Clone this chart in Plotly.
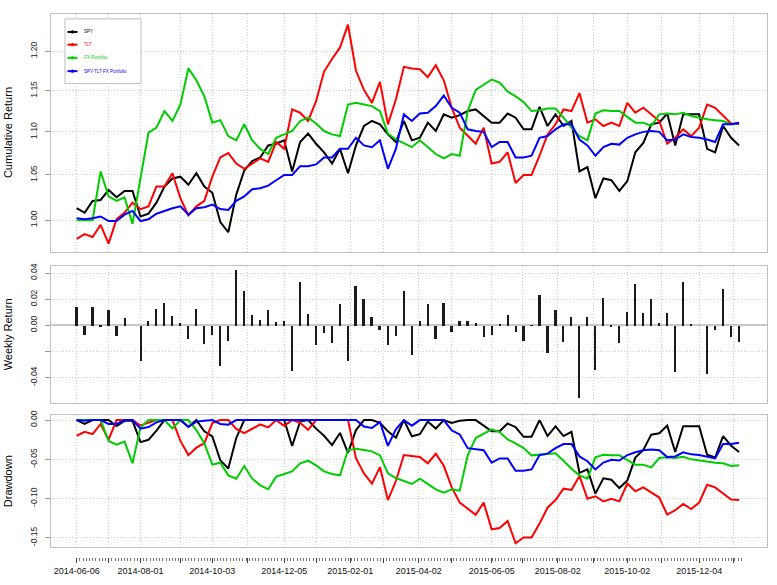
import numpy as np
import pandas as pd
import plotly.graph_objects as go

# ---------------- data ----------------
start_date = "2014-06-06"
n_weeks = 84
dates = pd.date_range(start_date, periods=n_weeks, freq="7D")

spy = [1.013, 1.008, 1.021, 1.022, 1.033, 1.025, 1.032, 1.032, 1.004, 1.007,
       1.019, 1.037, 1.046, 1.048, 1.039, 1.052, 1.037, 1.030, 0.998, 0.987,
       1.028, 1.055, 1.066, 1.070, 1.084, 1.086, 1.090, 1.054, 1.088, 1.098,
       1.086, 1.076, 1.063, 1.080, 1.052, 1.084, 1.107, 1.113, 1.109, 1.097,
       1.088, 1.113, 1.090, 1.093, 1.111, 1.101, 1.121, 1.117, 1.120, 1.125,
       1.127, 1.119, 1.111, 1.111, 1.122, 1.117, 1.103, 1.103, 1.130, 1.107,
       1.121, 1.107, 1.113, 1.054, 1.059, 1.024, 1.046, 1.044, 1.032, 1.043,
       1.076, 1.087, 1.109, 1.111, 1.122, 1.084, 1.121, 1.121, 1.121, 1.080,
       1.076, 1.107, 1.093, 1.084]

tlt = [0.980, 0.985, 0.982, 0.995, 0.975, 1.001, 1.008, 1.019, 1.012, 1.015,
       1.037, 1.037, 1.052, 1.024, 1.005, 1.015, 1.021, 1.048, 1.070, 1.075,
       1.063, 1.057, 1.063, 1.069, 1.065, 1.088, 1.080, 1.127, 1.123, 1.113,
       1.137, 1.174, 1.190, 1.205, 1.235, 1.175, 1.151, 1.135, 1.161, 1.109,
       1.139, 1.180, 1.178, 1.177, 1.167, 1.182, 1.163, 1.129, 1.105, 1.095,
       1.086, 1.105, 1.063, 1.065, 1.076, 1.041, 1.050, 1.050, 1.072, 1.097,
       1.109, 1.127, 1.125, 1.147, 1.111, 1.115, 1.107, 1.111, 1.107, 1.135,
       1.123, 1.129, 1.121, 1.113, 1.086, 1.093, 1.103, 1.095, 1.105, 1.133,
       1.129, 1.119, 1.110, 1.109]

fx = [1.000, 1.000, 1.000, 1.054, 1.026, 1.021, 1.025, 0.996, 1.044, 1.099,
      1.105, 1.125, 1.113, 1.133, 1.178, 1.163, 1.143, 1.111, 1.114, 1.095,
      1.090, 1.109, 1.090, 1.080, 1.074, 1.093, 1.097, 1.101, 1.113, 1.117,
      1.110, 1.101, 1.097, 1.095, 1.133, 1.135, 1.133, 1.131, 1.125, 1.098,
      1.091, 1.086, 1.082, 1.090, 1.082, 1.074, 1.069, 1.074, 1.072, 1.125,
      1.151, 1.157, 1.164, 1.160, 1.149, 1.143, 1.136, 1.125, 1.126, 1.128,
      1.128, 1.117, 1.105, 1.095, 1.090, 1.122, 1.126, 1.125, 1.125, 1.118,
      1.111, 1.111, 1.107, 1.121, 1.122, 1.121, 1.123, 1.119, 1.117, 1.115,
      1.114, 1.113, 1.109, 1.110]

combo = [1.002, 1.001, 1.002, 1.004, 0.999, 0.999, 1.006, 1.010, 0.999, 1.001,
         1.007, 1.010, 1.013, 1.015, 1.006, 1.013, 1.014, 1.017, 1.012, 1.011,
         1.021, 1.026, 1.034, 1.035, 1.038, 1.044, 1.050, 1.050, 1.060, 1.060,
         1.062, 1.070, 1.070, 1.080, 1.080, 1.093, 1.084, 1.082, 1.090, 1.057,
         1.080, 1.121, 1.113, 1.122, 1.123, 1.131, 1.144, 1.129, 1.123, 1.103,
         1.101, 1.100, 1.082, 1.088, 1.088, 1.070, 1.070, 1.072, 1.093, 1.095,
         1.103, 1.109, 1.109, 1.091, 1.084, 1.072, 1.082, 1.086, 1.085, 1.093,
         1.097, 1.100, 1.101, 1.100, 1.090, 1.091, 1.097, 1.094, 1.093, 1.091,
         1.088, 1.109, 1.109, 1.111]

weekly_ret = [0.0143, -0.0068, 0.0143, -0.0005, 0.0120, -0.0080, 0.0058, 0.0, -0.0268, 0.0038,
              0.0125, 0.0175, 0.0075, 0.0020, -0.0100, 0.0125, -0.0143, -0.0070, -0.0308, -0.0113,
              0.0425, 0.0268, 0.0080, 0.0043, 0.0118, 0.0025, 0.0038, -0.0343, 0.0338, 0.0093,
              -0.0145, -0.0058, -0.0130, 0.0163, -0.0270, 0.0305, 0.0205, 0.0070, -0.0030, -0.0150,
              -0.0080, 0.0268, -0.0225, 0.0033, 0.0170, -0.0103, 0.0175, -0.0045, 0.0040, 0.0035,
              0.0023, -0.0088, -0.0068, 0.0010, 0.0085, -0.0048, -0.0120, 0.0005, 0.0238, -0.0210,
              0.0118, -0.0123, 0.0070, -0.0555, 0.0070, -0.0338, 0.0213, -0.0010, -0.0133, 0.0108,
              0.0320, 0.0095, 0.0208, 0.0018, 0.0100, -0.0355, 0.0333, 0.0008, 0.0, -0.0368,
              -0.0035, 0.0280, -0.0088, -0.0125]

names = ["SPY", "TLT", "FX Portfolio", "SPY-TLT-FX Portfolio"]
colors = ["#000000", "#FF0000", "#00CD00", "#0000FF"]

major_ticks = ["2014-06-06", "2014-07-04", "2014-08-01", "2014-09-05", "2014-10-03",
               "2014-11-03", "2014-12-05", "2015-01-02", "2015-02-01", "2015-03-02",
               "2015-04-02", "2015-05-01", "2015-06-05", "2015-07-02", "2015-08-02",
               "2015-09-02", "2015-10-02", "2015-11-01", "2015-12-04", "2016-01-03"]
major_labels = ["2014-06-06", "", "2014-08-01", "", "2014-10-03", "", "2014-12-05", "",
                "2015-02-01", "", "2015-04-02", "", "2015-06-05", "", "2015-08-02", "",
                "2015-10-02", "", "2015-12-04", ""]

cum_ticks = [1.00, 1.05, 1.10, 1.15, 1.20]
cum_labels = ["1.00", "1.05", "1.10", "1.15", "1.20"]
ret_ticks = [-0.04, -0.02, 0.00, 0.02, 0.04]
ret_labels = ["-0.04", "", "0.00", "0.02", "0.04"]
dd_ticks = [-0.15, -0.10, -0.05, 0.00]
dd_labels = ["-0.15", "-0.10", "-0.05", "0.00"]

series = [spy, tlt, fx, combo]


def drawdown(c):
    c = np.asarray(c, dtype=float)
    peak = np.maximum.accumulate(np.maximum(c, 1.0))
    return c / peak - 1.0


# ---------------- layout geometry ----------------
W, H = 777, 585
ML, MR, MT, MB = 51, 10, 9, 22
PW = W - ML - MR
PH = H - MT - MB


def px2x(px):
    return (px - ML) / PW


def px2y(py):
    return (H - MB - py) / PH


x_range = ["2014-05-14 12:00", "2016-02-01 12:00"]
minor_vals = pd.date_range(start_date, "2016-01-10", periods=209)

GRID = "#CFCFCF"
GRID_DASH = "1px,2px"
FRAME = "#BEBEBE"
FONT = "Liberation Sans, Arial, sans-serif"

fig = go.Figure()

for s, nm, col in zip(series, names, colors):
    fig.add_trace(go.Scatter(x=dates, y=s, mode="lines", name=nm,
                             line=dict(color=col, width=2),
                             xaxis="x", yaxis="y", showlegend=False))

fig.add_trace(go.Bar(x=dates, y=weekly_ret, width=1.75 * 86400000,
                     marker=dict(color="#1a1a1a", line=dict(width=0)),
                     xaxis="x2", yaxis="y2", showlegend=False))

for s, nm, col in zip(series, names, colors):
    fig.add_trace(go.Scatter(x=dates, y=drawdown(s), mode="lines", name=nm,
                             line=dict(color=col, width=2),
                             xaxis="x3", yaxis="y3", showlegend=False))

# dummy trace for the free tick axis
fig.add_trace(go.Scatter(x=[dates[0], dates[-1]], y=[None, None], mode="lines",
                         xaxis="x4", yaxis="y3", showlegend=False, hoverinfo="skip"))

xcommon = dict(type="date", range=x_range, tickmode="array", tickvals=major_ticks,
               showticklabels=False, ticks="", showgrid=True, gridcolor=GRID,
               griddash=GRID_DASH, gridwidth=1, showline=True, mirror=True,
               linecolor=FRAME, linewidth=1, zeroline=False)
ycommon = dict(tickangle=-90, ticks="outside", ticklen=5, tickcolor="#999999",
               showgrid=True, gridcolor=GRID, griddash=GRID_DASH, gridwidth=1,
               showline=True, mirror=True, linecolor=FRAME, linewidth=1,
               tickfont=dict(size=8.5, color="#222222", family=FONT),
               ticklabelstandoff=5, tickmode="array")

dom_top = [px2y(252), 1.0]
dom_mid = [px2y(406), px2y(265.7)]
dom_bot = [px2y(553), px2y(418.3)]

fig.update_layout(
    width=W, height=H,
    margin=dict(l=ML, r=MR, t=MT, b=MB, pad=0),
    paper_bgcolor="white", plot_bgcolor="white",
    font=dict(family=FONT, color="#000000"),
    bargap=0,
    xaxis=dict(xcommon, domain=[0, 1], anchor="y"),
    xaxis2=dict(xcommon, domain=[0, 1], anchor="y2"),
    xaxis3=dict(xcommon, domain=[0, 1], anchor="y3"),
    xaxis4=dict(type="date", range=x_range, overlaying="x3", anchor="free", position=0,
                tickmode="array", tickvals=major_ticks, ticktext=major_labels,
                ticks="outside", ticklen=5, tickcolor="#444444", tickwidth=1,
                showgrid=False, showline=False, zeroline=False,
                tickfont=dict(size=9, color="#111111", family=FONT),
                minor=dict(tickmode="array", tickvals=list(minor_vals), ticks="outside",
                           ticklen=3, tickcolor="#777777", showgrid=False)),
    yaxis=dict(ycommon, domain=dom_top, anchor="x", type="log",
               range=[np.log10(0.966), np.log10(1.2493)],
               tickvals=cum_ticks, ticktext=cum_labels, zeroline=False),
    yaxis2=dict(ycommon, domain=dom_mid, anchor="x2", range=[-0.0595, 0.0457],
                tickvals=ret_ticks, ticktext=ret_labels,
                zeroline=True, zerolinecolor="#C8C8C8", zerolinewidth=1.5),
    yaxis3=dict(ycommon, domain=dom_bot, anchor="x3", range=[-0.1621, 0.00625],
                tickvals=dd_ticks, ticktext=dd_labels, zeroline=False),
)

# y-axis titles
titles = [("Cumulative Return", (9 + 252) / 2),
          ("Weekly Return", (265.7 + 406) / 2),
          ("Drawdown", (418.3 + 553) / 2)]
for txt, cy in titles:
    fig.add_annotation(text=txt, xref="paper", yref="paper", x=px2x(8), y=px2y(cy),
                       textangle=-90, showarrow=False, xanchor="center", yanchor="middle",
                       font=dict(size=11, color="#000000", family=FONT))

# legend box
fig.add_shape(type="rect", xref="paper", yref="paper",
              x0=px2x(65), x1=px2x(141), y0=px2y(80), y1=px2y(14),
              line=dict(color=FRAME, width=1), fillcolor="white", layer="above")
leg_y = [27.3, 40.3, 53.7, 67.3]
for nm, col, ly in zip(names, colors, leg_y):
    fig.add_shape(type="line", xref="paper", yref="paper",
                  x0=px2x(67.5), x1=px2x(77.5), y0=px2y(ly), y1=px2y(ly),
                  line=dict(color=col, width=2), layer="above")
    fig.add_shape(type="circle", xref="paper", yref="paper",
                  x0=px2x(70.8), x1=px2x(74.2), y0=px2y(ly + 1.7), y1=px2y(ly - 1.7),
                  line=dict(color=col, width=0), fillcolor=col, layer="above")
    fig.add_annotation(text=nm, xref="paper", yref="paper", x=px2x(81.5), y=px2y(ly),
                       showarrow=False, xanchor="left", yanchor="middle",
                       font=dict(size=4.5, color=col, family=FONT))

fig.write_html("out.html",
               config={"displayModeBar": False},
               post_script="document.body.style.margin='0';document.body.style.padding='0';"
                           "document.body.style.overflow='hidden';")
